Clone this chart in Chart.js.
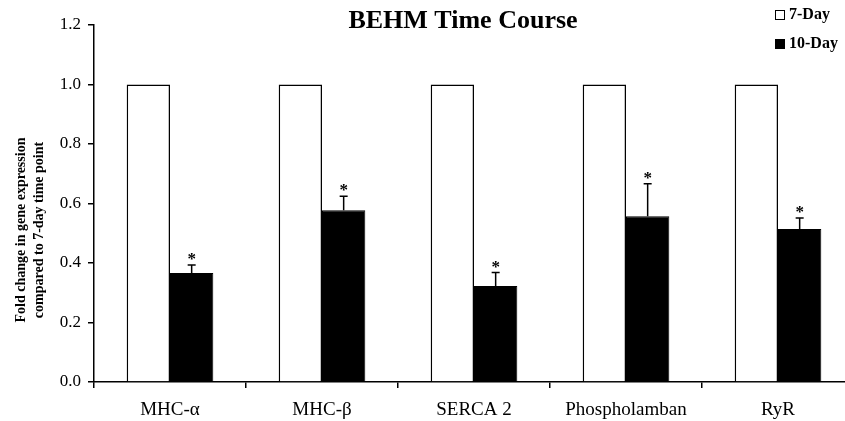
<!DOCTYPE html>
<html>
<head>
<meta charset="utf-8">
<script src="https://cdn.jsdelivr.net/npm/chart.js@4/dist/chart.umd.min.js"></script>
<style>
  html, body { margin: 0; padding: 0; background: #fff; overflow: hidden; }
  #wrap { width: 845px; height: 421px; overflow: hidden; }
  #wrap div { width: 860px; height: 421px; }
</style>
</head>
<body>
<div id="wrap"><div><canvas id="chart" width="860" height="421"></canvas></div></div>
<script>
// data
const categories = ['MHC-\u03b1', 'MHC-\u03b2', 'SERCA 2', 'Phospholamban', 'RyR'];
const day7 = [1.0, 1.0, 1.0, 1.0, 1.0];
const day10 = [0.366, 0.577, 0.323, 0.557, 0.514];
const day10Err = [0.027, 0.047, 0.045, 0.109, 0.037];
const significant = [true, true, true, true, true];
const yTicks = [0, 0.2, 0.4, 0.6, 0.8, 1.0, 1.2];

const serif = "'Liberation Serif', 'DejaVu Serif', serif";

// error bars, asterisks, title, y title, legend
const extras = {
    id: 'extras',
    afterDatasetsDraw(chart) {
        const ctx = chart.ctx;
        const y = chart.scales.y;
        const meta = chart.getDatasetMeta(1);
        ctx.save();
        ctx.strokeStyle = '#000';
        ctx.fillStyle = '#000';
        ctx.lineWidth = 1.5;
        meta.data.forEach((bar, i) => {
            const top = y.getPixelForValue(day10[i] + day10Err[i]);
            const base = y.getPixelForValue(day10[i]);
            ctx.beginPath();
            ctx.moveTo(bar.x, base);
            ctx.lineTo(bar.x, top);
            ctx.moveTo(bar.x - 4, top);
            ctx.lineTo(bar.x + 4, top);
            ctx.stroke();
            if (significant[i]) {
                ctx.font = 'bold 17px ' + serif;
                ctx.textAlign = 'center';
                ctx.textBaseline = 'alphabetic';
                ctx.fillText('*', bar.x, top - 1);
            }
        });

        // title
        ctx.font = 'bold 26px ' + serif;
        ctx.textAlign = 'center';
        ctx.textBaseline = 'middle';
        ctx.fillText('BEHM Time Course', 463, 21);

        // y axis title
        ctx.save();
        ctx.translate(21, 230);
        ctx.rotate(-Math.PI / 2);
        ctx.font = 'bold 14px ' + serif;
        ctx.fillText('Fold change in gene expression', 0, 0);
        ctx.fillText('compared to 7-day time point', 0, 18);
        ctx.restore();

        // legend
        ctx.lineWidth = 1;
        ctx.strokeRect(775.5, 10.5, 9, 9);
        ctx.fillRect(775, 39, 10, 10);
        ctx.font = 'bold 16px ' + serif;
        ctx.textAlign = 'left';
        ctx.fillText('7-Day', 789, 15);
        ctx.fillText('10-Day', 789, 44);
        ctx.restore();
    }
};

new Chart(document.getElementById('chart').getContext('2d'), {
    type: 'bar',
    data: {
        labels: categories,
        datasets: [
            {
                label: '7-Day',
                data: day7,
                backgroundColor: '#fff',
                borderColor: '#000',
                borderWidth: 1.5,
                barPercentage: 1.0,
                categoryPercentage: 0.57
            },
            {
                label: '10-Day',
                data: day10,
                backgroundColor: '#000',
                borderColor: '#000',
                borderWidth: 1,
                barPercentage: 1.0,
                categoryPercentage: 0.57
            }
        ]
    },
    options: {
        responsive: false,
        animation: false,
        layout: { padding: { top: 25, right: 6, left: 0, bottom: 0 } },
        plugins: {
            legend: { display: false },
            title: { display: false },
            tooltip: { enabled: false }
        },
        scales: {
            x: {
                offset: true,
                grid: { offset: true, drawOnChartArea: false, tickLength: 6, color: '#000', lineWidth: 1.5 },
                border: { color: '#000', width: 1.5 },
                ticks: { color: '#000', padding: 11, font: { family: serif, size: 19 } },
                afterFit(scale) { scale.height = 39; }
            },
            y: {
                min: 0,
                max: 1.2,
                afterBuildTicks(scale) { scale.ticks = yTicks.map(v => ({ value: v })); },
                grid: { drawOnChartArea: false, tickLength: 6, color: '#000', lineWidth: 1.5 },
                border: { color: '#000', width: 1.5 },
                ticks: {
                    color: '#000',
                    padding: 7,
                    font: { family: serif, size: 17 },
                    callback: v => v.toFixed(1)
                },
                afterFit(scale) { scale.width = 94; }
            }
        }
    },
    plugins: [extras]
});
</script>
</body>
</html>
